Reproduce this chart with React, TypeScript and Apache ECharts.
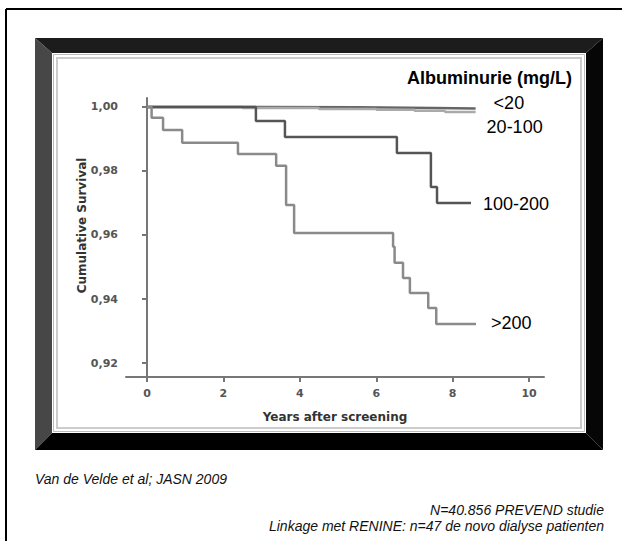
import React, { useEffect, useRef } from "react";
import * as echarts from "echarts";

const xTicks = [0, 2, 4, 6, 8, 10];
const yTicks = [0.92, 0.94, 0.96, 0.98, 1.0];

const seriesNames = ["<20", "20-100", "100-200", ">200"];

const lt20Times = [0, 3.0, 5.5, 7.5, 8.6];
const lt20Surv = [1.0, 0.9999, 0.9997, 0.9995, 0.9995];

const a20Times = [0, 2.5, 4.5, 6.0, 7.0, 7.8, 8.6];
const a20Surv = [1.0, 0.9997, 0.9994, 0.9991, 0.9988, 0.9984, 0.9984];

const a100Times = [0, 2.85, 3.61, 6.54, 7.43, 7.59, 8.48];
const a100Surv = [1.0, 0.9956, 0.9906, 0.9856, 0.975, 0.97, 0.97];

const gt200Times = [0, 0.12, 0.42, 0.92, 2.38, 3.38, 3.64, 3.85, 6.44, 6.48, 6.7, 6.88, 7.36, 7.57, 8.61];
const gt200Surv = [1.0, 0.9966, 0.9928, 0.9888, 0.9853, 0.9816, 0.9694, 0.9606, 0.9563, 0.9513, 0.9466, 0.9419, 0.9372, 0.9322, 0.9322];

const legendTitle = "Albuminurie (mg/L)";
const xName = "Years after screening";
const yName = "Cumulative Survival";
const citation = "Van de Velde et al; JASN 2009";
const note1 = "N=40.856 PREVEND studie";
const note2 = "Linkage met RENINE: n=47 de novo dialyse patienten";

const pairs = (t: number[], s: number[]) => t.map((x, i) => [x, s[i]]);

export default function App() {
  const ref = useRef<HTMLDivElement>(null);
  useEffect(() => {
    if (!ref.current) return;
    const chart = echarts.init(ref.current, null, { renderer: "svg" });
    const lineFont = "'Liberation Sans', Arial, sans-serif";
    const axisFont = "'DejaVu Sans', sans-serif";
    const mk = (name: string, data: number[][], color: string, offset: number[]) => ({
      name,
      type: "line",
      step: "end",
      data,
      symbol: "none",
      lineStyle: { color, width: 2.5 },
      endLabel: {
        show: true,
        formatter: name,
        color: "#000",
        fontSize: 18,
        fontFamily: lineFont,
        offset,
      },
    });
    chart.setOption({
      animation: false,
      backgroundColor: "#fff",
      title: {
        text: legendTitle,
        right: 45,
        top: 64,
        textStyle: { fontSize: 18, fontWeight: "bold", color: "#000", fontFamily: lineFont },
      },
      grid: { left: 126, right: 78, top: 98, bottom: 164 },
      xAxis: {
        type: "value",
        min: -0.55,
        max: 10.39,
        name: xName,
        nameLocation: "middle",
        nameGap: 34,
        nameTextStyle: { fontFamily: axisFont, fontWeight: "bold", fontSize: 12, color: "#333" },
        axisLine: { lineStyle: { color: "#777", width: 2 } },
        axisTick: { show: true, customValues: xTicks, length: 5, lineStyle: { color: "#777", width: 2 } },
        axisLabel: {
          customValues: xTicks,
          margin: 11,
          fontFamily: axisFont,
          fontWeight: "bold",
          fontSize: 11,
          color: "#555",
        },
        splitLine: { show: false },
      },
      yAxis: {
        type: "value",
        min: 0.91563,
        max: 1.0028,
        name: yName,
        nameLocation: "middle",
        nameRotate: 90,
        nameGap: 38,
        nameMoveOverlap: false,
        nameTextStyle: { fontFamily: axisFont, fontWeight: "bold", fontSize: 12, color: "#333", padding: [0, 0, 0, 24] },
        axisLine: { show: true, lineStyle: { color: "#777", width: 2 } },
        axisTick: { show: true, customValues: yTicks, length: 5, lineStyle: { color: "#777", width: 2 } },
        axisLabel: {
          customValues: yTicks,
          margin: 8,
          fontFamily: axisFont,
          fontWeight: "bold",
          fontSize: 11,
          color: "#555",
          formatter: (v: number) => v.toFixed(2).replace(".", ","),
        },
        splitLine: { show: false },
      },
      graphic: [
        { type: "line", z: -5, shape: { x1: 6, y1: 9, x2: 622, y2: 9 }, style: { stroke: "#000", lineWidth: 2 } },
        { type: "line", z: -5, shape: { x1: 6, y1: 9, x2: 6, y2: 541 }, style: { stroke: "#000", lineWidth: 2 } },
        { type: "polygon", z: -5, shape: { points: [[35, 38], [603, 38], [586, 53], [52, 53]] }, style: { fill: "#1c1c1c" } },
        { type: "polygon", z: -5, shape: { points: [[35, 38], [52, 53], [52, 433], [35, 450]] }, style: { fill: "#474747" } },
        { type: "polygon", z: -5, shape: { points: [[603, 38], [603, 450], [586, 433], [586, 53]] }, style: { fill: "#060606" } },
        { type: "polygon", z: -5, shape: { points: [[35, 450], [603, 450], [586, 433], [52, 433]] }, style: { fill: "#000" } },
        { type: "rect", z: -5, shape: { x: 52, y: 53, width: 534, height: 380 }, style: { fill: "#fff" } },
        { type: "rect", z: -4, shape: { x: 53.5, y: 54.5, width: 531, height: 377 }, style: { fill: "none", stroke: "#bbb", lineWidth: 1 } },
        { type: "rect", z: -4, shape: { x: 57, y: 58, width: 524, height: 370 }, style: { fill: "none", stroke: "#ccc", lineWidth: 2 } },
        {
          type: "text",
          left: 35,
          top: 472,
          style: { text: citation, font: "italic 14px 'Liberation Sans', Arial, sans-serif", fill: "#111" },
        },
        {
          type: "text",
          right: 18,
          top: 503,
          style: { text: note1, font: "italic 14px 'Liberation Sans', Arial, sans-serif", fill: "#111", textAlign: "right" },
        },
        {
          type: "text",
          right: 18,
          top: 519,
          style: { text: note2, font: "italic 14px 'Liberation Sans', Arial, sans-serif", fill: "#111", textAlign: "right" },
        },
      ],
      series: [
        mk(seriesNames[0], pairs(lt20Times, lt20Surv), "#666", [10, -6]),
        mk(seriesNames[1], pairs(a20Times, a20Surv), "#aaa", [3, 15]),
        mk(seriesNames[2], pairs(a100Times, a100Surv), "#555", [4, 1]),
        mk(seriesNames[3], pairs(gt200Times, gt200Surv), "#8a8a8a", [7, -1]),
      ],
    });
    return () => chart.dispose();
  }, []);
  return <div ref={ref} style={{ position: "absolute", left: 0, top: 0, width: 622, height: 541 }} />;
}
